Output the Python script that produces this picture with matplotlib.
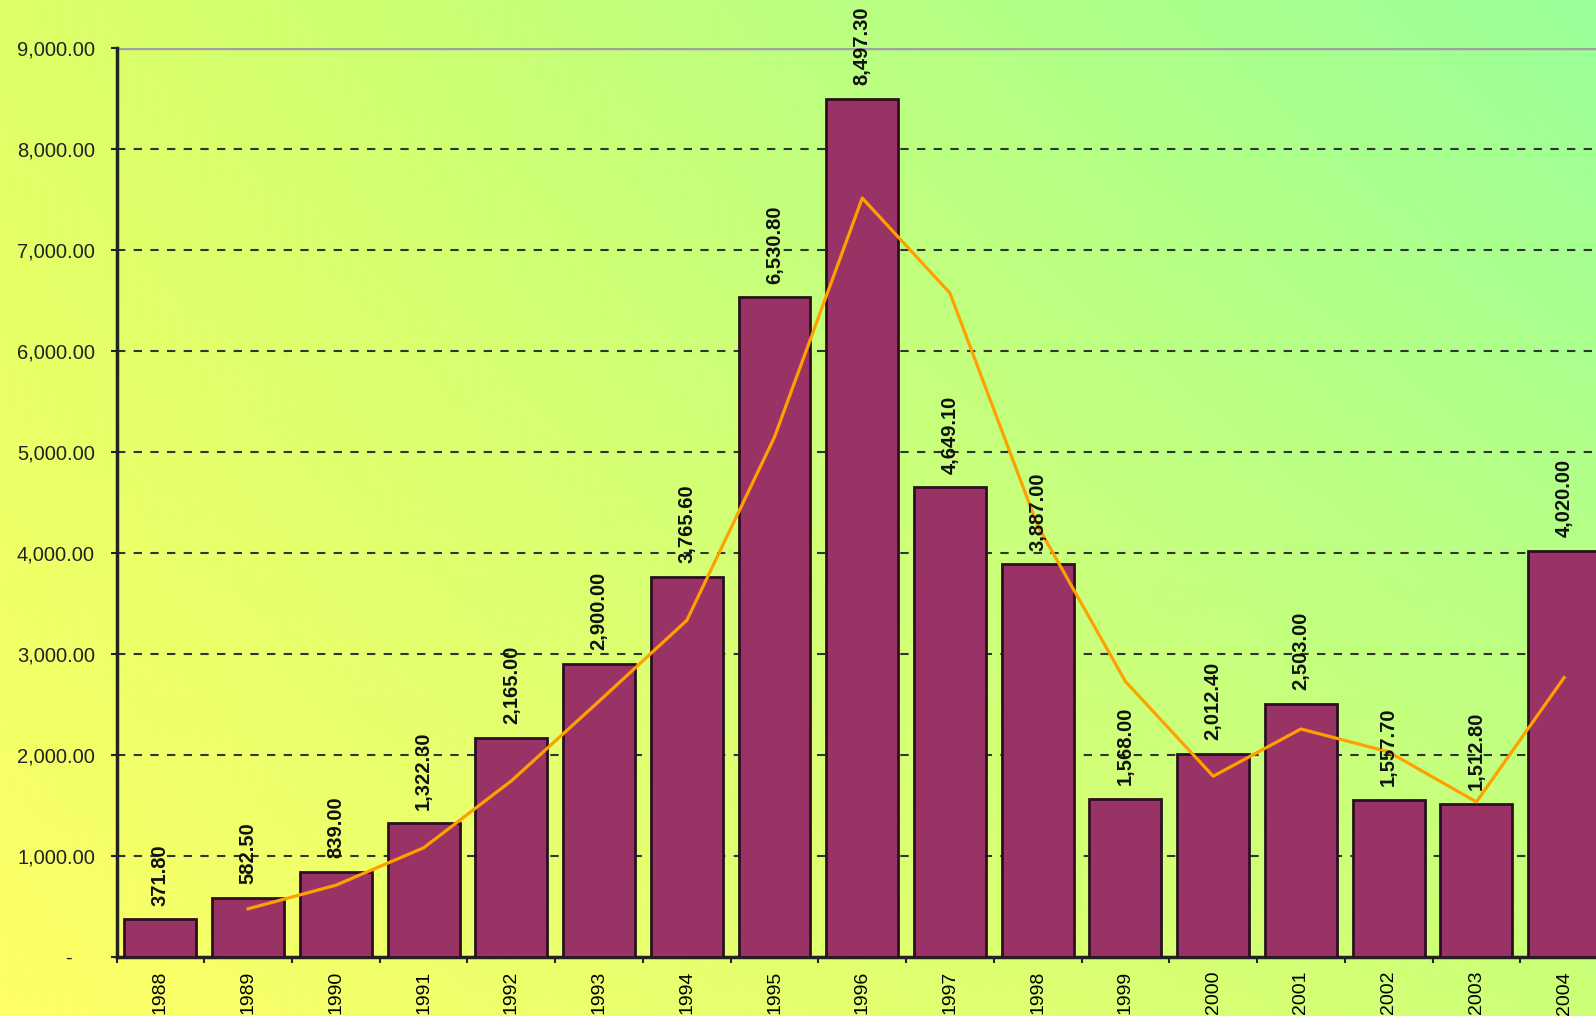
import numpy as np
import matplotlib.pyplot as plt
from matplotlib.ticker import FuncFormatter

# Dati
anni = ['1988', '1989', '1990', '1991', '1992', '1993', '1994', '1995', '1996',
        '1997', '1998', '1999', '2000', '2001', '2002', '2003', '2004']
valori = [371.80, 582.50, 839.00, 1322.30, 2165.00, 2900.00, 3765.60, 6530.80,
          8497.30, 4649.10, 3887.00, 1568.00, 2012.40, 2503.00, 1557.70,
          1512.80, 4020.00]
# media mobile a 2 periodi (parte dal 1989)
media_mobile = [477.2, 710.8, 1080.7, 1743.7, 2532.5, 3332.8, 5148.2, 7514.1,
                6573.2, 4268.1, 2727.5, 1790.2, 2257.7, 2030.4, 1535.3, 2766.4]

W, H = 1596, 1016
fig = plt.figure(figsize=(W / 100, H / 100), dpi=100)

# Sfondo sfumato: interpolazione bilineare dei colori agli angoli
bg = fig.add_axes([0, 0, 1, 1], zorder=0)
xx, yy = np.meshgrid(np.linspace(0, 1, 400), np.linspace(0, 1, 260))
bl = np.array([255, 255, 102]) / 255   # basso sinistra
tl = np.array([221, 255, 102]) / 255   # alto sinistra
br = np.array([204, 255, 119]) / 255   # basso destra
tr = np.array([153, 255, 153]) / 255   # alto destra
xx3, yy3 = xx[..., None], yy[..., None]
img = (bl * (1 - xx3) * (1 - yy3) + br * xx3 * (1 - yy3)
       + tl * (1 - xx3) * yy3 + tr * xx3 * yy3)
bg.imshow(img, origin='lower', aspect='auto', extent=[0, 1, 0, 1])
bg.axis('off')

# Area del grafico
left, right, top, bottom = 116.5, 1608, 48, 957
ax = fig.add_axes([left / W, 1 - bottom / H, (right - left) / W, (bottom - top) / H], zorder=1)
ax.patch.set_alpha(0)

x = np.arange(len(anni))
ax.bar(x, valori, width=0.82, color='#993366', edgecolor='#2a1020', linewidth=2, zorder=3)
ax.plot(x[1:], media_mobile, color='#ffa000', linewidth=2.3, zorder=4)

for xi, v in zip(x, valori):
    ax.annotate(f'{v:,.2f}', (xi, v), xytext=(0, 10), textcoords='offset points',
                rotation=90, ha='center', va='bottom', fontsize=14.5,
                fontweight='bold', family='Liberation Sans',
                color='#111111', zorder=5)

ax.set_xlim(-0.5, len(anni) - 0.5)
ax.set_ylim(0, 9000)
ax.set_yticks(np.arange(0, 9001, 1000))
ax.yaxis.set_major_formatter(FuncFormatter(lambda v, p: '-    ' if v == 0 else f'{v:,.2f}'))
ax.set_xticks(x)
ax.set_xticklabels(anni, rotation=90, fontsize=14, family='Liberation Sans')
ax.set_xticks(np.arange(-0.5, len(anni), 1), minor=True)
ax.tick_params(axis='x', which='major', length=0, pad=10)
ax.tick_params(axis='x', which='minor', length=4, width=1.5, color='#222222', direction='out')
ax.tick_params(axis='y', length=4.5, width=1.5, color='#222222', labelsize=14.5, pad=11)
for lab in ax.get_yticklabels():
    lab.set_family('Liberation Sans')
    lab.set_color('#222222')

# Griglia
ax.grid(axis='y', linestyle=(0, (4, 4)), color='#333333', linewidth=1.5, zorder=1)
ax.set_axisbelow(True)
ax.axhline(9000, color='#a0a0a0', linewidth=2.5, zorder=2)

ax.spines['left'].set_linewidth(2.5)
ax.spines['left'].set_color('#222222')
ax.spines['bottom'].set_linewidth(2.5)
ax.spines['bottom'].set_color('#222222')
ax.spines['top'].set_visible(False)
ax.spines['right'].set_visible(False)

fig.savefig('out.png', dpi=100)
